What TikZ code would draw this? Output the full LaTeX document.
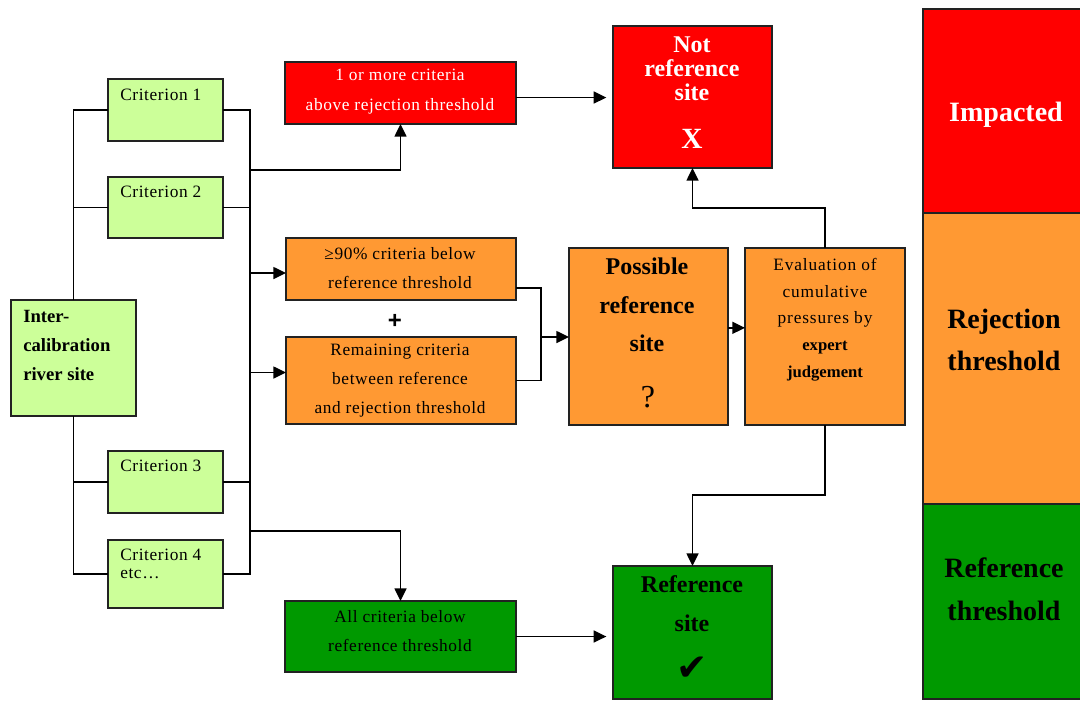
\documentclass[tikz,border=0pt]{standalone}
\usepackage{fontspec}
\setmainfont{Liberation Serif}
\newfontfamily\spacedfont[LetterSpace=3.5]{Liberation Serif}
\newfontfamily\widefont[LetterSpace=5]{Liberation Serif}
\newfontfamily\symfont{DejaVu Sans}
\newfontfamily\plusfont{Liberation Sans}
\usetikzlibrary{arrows.meta}
\definecolor{lgreen}{HTML}{CCFF99}
\definecolor{redc}{HTML}{FF0000}
\definecolor{orangec}{HTML}{FF9933}
\definecolor{greenc}{HTML}{009900}
\definecolor{edgec}{HTML}{222222}
% box from corner (x1,y1) to (x2,y2), pixel units
\newcommand\mkbox[6]{\node[#2, minimum width={(#5-#3)*0.75pt}, minimum height={(#6-#4)*0.75pt}] (#1) at ({(#3+#5)/2},{(#4+#6)/2}) {};}
\newcommand\fs[2]{\fontsize{#1}{#2}\selectfont}
\tikzset{
  boxbase/.style={draw=edgec, line width=1pt, rectangle, inner sep=0pt, outer sep=0pt},
  critbox/.style={boxbase, fill=lgreen},
  redbox/.style={boxbase, fill=redc},
  orbox/.style={boxbase, fill=orangec},
  grbox/.style={boxbase, fill=greenc},
  conn/.style={line width=1.1pt, black},
  arr/.style={conn, -{Triangle[length=9.5pt,width=9pt]}},
  txt/.style={inner sep=0pt, align=center},
}
\begin{document}
\begin{tikzpicture}[x=0.75pt,y=-0.75pt]
\useasboundingbox (0,0) rectangle (1080,700);
\fill[white] (0,0) rectangle (1080,700);

% scale column on the right
\mkbox{colred}{redbox}{923}{9}{1092}{213}
\mkbox{color}{orbox}{923}{213}{1092}{504}
\mkbox{colgr}{grbox}{923}{504}{1092}{699}
\node[txt, text=white, font=\fs{21}{32}\bfseries] at (1006,115) {Impacted};
\node[txt, font=\fs{21}{32}\bfseries] at (1004,340) {Rejection\\ threshold};
\node[txt, font=\fs{21}{32}\bfseries] at (1004,589) {Reference\\ threshold};

% site and criteria
\mkbox{site}{critbox}{11}{300}{136}{416}
\node[txt, align=left, anchor=west, font=\fs{14}{21.75}\bfseries] at (23,345) {Inter-\\calibration\\river site};
\mkbox{c1}{critbox}{108}{79}{223}{141}
\mkbox{c2}{critbox}{108}{177}{223}{238}
\mkbox{c3}{critbox}{108}{451}{223}{513}
\mkbox{c4}{critbox}{108}{540}{223}{608}
\node[txt, anchor=west, font=\spacedfont\fs{13}{14}] at (120,95) {Criterion 1};
\node[txt, anchor=west, font=\spacedfont\fs{13}{14}] at (120,192) {Criterion 2};
\node[txt, anchor=west, font=\spacedfont\fs{13}{14}] at (120,466) {Criterion 3};
\node[txt, align=left, anchor=west, font=\spacedfont\fs{13}{14}] at (120,564) {Criterion 4\\etc…};

% outcome boxes
\mkbox{rej}{redbox}{285}{62}{516}{124}
\node[txt, text=white, font=\spacedfont\fs{13}{22.5}] at (400,92) {1 or more criteria\\above rejection threshold};
\mkbox{o1}{orbox}{286}{238}{516}{300}
\node[txt, font=\spacedfont\fs{13}{21.75}] at (400,268.5) {≥90\% criteria below\\reference threshold};
\node[txt, font=\plusfont\fs{18}{18}\bfseries] at (395,321) {+};
\mkbox{o2}{orbox}{286}{337}{516}{424}
\node[txt, font=\spacedfont\fs{13}{22}] at (400,380.5) {Remaining criteria\\between reference\\and rejection threshold};
\mkbox{allc}{grbox}{285}{601}{516}{672}
\node[txt, font=\spacedfont\fs{13}{21.75}] at (400,631.5) {All criteria below\\reference threshold};

\mkbox{notref}{redbox}{613}{26}{772}{168}
\node[txt, text=white, font=\fs{18}{18}\bfseries] at (692,69) {Not\\reference\\site};
\node[txt, text=white, font=\fs{22}{22}\bfseries] at (692,139) {X};
\mkbox{poss}{orbox}{569}{248}{728}{425}
\node[txt, font=\fs{18}{29}\bfseries] at (647,305) {Possible\\reference\\site};
\node[txt, font=\fs{24}{24}] at (648,397) {?};
\mkbox{eval}{orbox}{745}{248}{905}{425}
\node[txt, font=\fs{12.5}{20}] at (825,319.5) {{\widefont\fs{13}{20}Evaluation of}\\{\widefont\fs{13}{20}cumulative}\\{\widefont\fs{13}{20}pressures by}\\\textbf{expert}\\\textbf{judgement}};
\mkbox{refsite}{grbox}{613}{566}{772}{699}
\node[txt, font=\fs{18}{29}\bfseries] at (692,603.5) {Reference\\site};
\node[txt, font=\symfont\fs{28}{28}] at (692,669) {✔};

% left bus from the site to the criteria
\draw[conn] (site.north) |- (c1.west);
\draw[conn] (c2.west) -- (c2.west -| site.north);
\draw[conn] (site.south) |- (c4.west);
\draw[conn] (c3.west) -- (c3.west -| site.south);

% right bus collecting the criteria
\coordinate (busx) at (250,0);
\draw[conn] (c1.east) -- (c1.east -| busx) -- (c4.east -| busx) -- (c4.east);
\draw[conn] (c2.east) -- (c2.east -| busx);
\draw[conn] (c3.east) -- (c3.east -| busx);
\coordinate (j1) at (250,170);
\coordinate (j2) at (250,531);
\draw[arr] (j1) -| (rej.south);
\draw[arr] ([yshift=-3pt]o1.west -| busx) -- ([yshift=-3pt]o1.west);
\draw[arr] ([yshift=6pt]o2.west -| busx) -- ([yshift=6pt]o2.west);
\draw[arr] (j2) -| (allc.north);

% merging the two orange conditions
\coordinate (m) at (541,337);
\draw[conn] ([yshift=-14.25pt]o1.east) -| (m);
\draw[conn] (o2.east) -| (m);
\draw[arr] (m) -- (m -| poss.west);
\draw[arr] ([yshift=6.5pt]poss.east) -- ([yshift=6.5pt]eval.west);

% expert judgement outcomes
\draw[arr] (eval.north) -- ++(0,-40) -| (notref.south);
\draw[arr] (eval.south) -- ++(0,70) -| (refsite.north);

% direct outcomes
\draw[arr, shorten >=5pt] ([yshift=-3.4pt]rej.east) -- ([yshift=-3.4pt]rej.east -| notref.west);
\draw[arr, shorten >=5pt] (allc.east) -- (allc.east -| refsite.west);
\end{tikzpicture}
\end{document}
